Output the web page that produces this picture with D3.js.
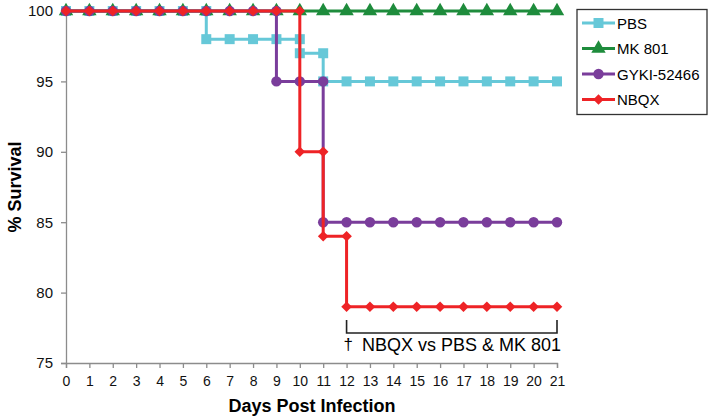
<!DOCTYPE html>
<html>
<head>
<meta charset="utf-8">
<script src="https://cdn.jsdelivr.net/npm/d3@7"></script>
<style>
  body { margin: 0; background: #fff; }
  text { font-family: Arial, "Liberation Sans", sans-serif; }
</style>
</head>
<body>
<div class="chart"></div>
<script>
var width = 714,
    height = 420;

// Data
var days = d3.range(0, 22);
var seriesNames = ["PBS", "MK 801", "GYKI-52466", "NBQX"];
var pbs  = [100,100,100,100,100,100,98,98,98,98,97,95,95,95,95,95,95,95,95,95,95,95];
var mk   = [100,100,100,100,100,100,100,100,100,100,100,100,100,100,100,100,100,100,100,100,100,100];
var gyki = [100,100,100,100,100,100,100,100,100,95,95,85,85,85,85,85,85,85,85,85,85,85];
var nbqx = [100,100,100,100,100,100,100,100,100,100,90,84,79,79,79,79,79,79,79,79,79,79];
var yTicks = [75, 80, 85, 90, 95, 100];
var bracketDays = [12, 21];

var colors = ["#66C8D8", "#1E8C3C", "#7A3D9B", "#EE2326"];
var symbols = [d3.symbolSquare, d3.symbolTriangle, d3.symbolCircle, d3.symbolSquare];
var symSizes = [100, 90, 85, 56];
var symRotate = [0, 0, 0, 45];
var allSeries = [pbs, mk, gyki, nbqx];

var x = d3.scaleLinear().domain([0, 21]).range([66, 557]);
var y = d3.scaleLinear().domain([75, 100]).range([363, 11]);

var svg = d3.select(".chart")
  .append("svg")
    .attr("width", width)
    .attr("height", height);

// Axes
var xAxis = svg.append("g")
  .attr("transform", "translate(0," + y(75) + ")")
  .call(d3.axisBottom(x).tickValues(days).tickSize(5).tickPadding(8).tickFormat(d3.format("d")));
var yAxis = svg.append("g")
  .attr("transform", "translate(" + x(0) + ",0)")
  .call(d3.axisLeft(y).tickValues(yTicks).tickSize(5).tickPadding(8));

[xAxis, yAxis].forEach(function(ax) {
  ax.select(".domain").attr("stroke", "#8c8c8c").attr("stroke-width", 1.3);
  ax.selectAll(".tick line").attr("stroke", "#8c8c8c").attr("stroke-width", 1.3);
  ax.selectAll(".tick text").attr("fill", "#111").style("font-size", "14px")
    .style("font-family", "Arial, 'Liberation Sans', sans-serif");
});
yAxis.selectAll(".tick text").style("font-size", "15px");

// Axis titles
svg.append("text")
  .attr("x", 312).attr("y", 412)
  .attr("text-anchor", "middle")
  .style("font-size", "18px").style("font-weight", "bold")
  .text("Days Post Infection");
svg.append("text")
  .attr("transform", "translate(21,187) rotate(-90)")
  .attr("text-anchor", "middle")
  .style("font-size", "18px").style("font-weight", "bold")
  .text("% Survival");

// Survival curves
var line = d3.line()
  .x(function(d, i) { return x(days[i]); })
  .y(function(d) { return y(d); })
  .curve(d3.curveStepAfter);

allSeries.forEach(function(vals, s) {
  svg.append("path")
    .datum(vals)
    .attr("d", line)
    .attr("fill", "none")
    .attr("stroke", colors[s])
    .attr("stroke-width", 3);

  // markers at each day, plus at the top of each drop
  var pts = [];
  vals.forEach(function(v, i) {
    if (i > 0 && vals[i - 1] !== v) pts.push([days[i], vals[i - 1]]);
    pts.push([days[i], v]);
  });
  svg.append("g").selectAll("path")
    .data(pts)
    .enter()
    .append("path")
    .attr("d", d3.symbol().type(symbols[s]).size(symSizes[s]))
    .attr("transform", function(d) {
      return "translate(" + x(d[0]) + "," + y(d[1]) + ") rotate(" + symRotate[s] + ")";
    })
    .attr("fill", colors[s]);
});

// Significance bracket
var bx0 = x(bracketDays[0]), bx1 = x(bracketDays[1]);
svg.append("path")
  .attr("d", "M" + bx0 + ",320V333H" + bx1 + "V320")
  .attr("fill", "none")
  .attr("stroke", "#222")
  .attr("stroke-width", 1.6);
svg.append("text")
  .attr("x", bx0 - 3).attr("y", 350)
  .style("font-size", "17px")
  .style("font-weight", "300")
  .text("\u2020");
svg.append("text")
  .attr("x", 362).attr("y", 351)
  .style("font-size", "18px")
  .text("NBQX vs PBS & MK 801");

// Legend
var legend = svg.append("g");
legend.append("rect")
  .attr("x", 577).attr("y", 9.5)
  .attr("width", 130).attr("height", 105)
  .attr("fill", "#fff")
  .attr("stroke", "#333")
  .attr("stroke-width", 1.3);

seriesNames.forEach(function(name, s) {
  var ly = 23 + s * 25.5;
  legend.append("line")
    .attr("x1", 582).attr("x2", 615)
    .attr("y1", ly).attr("y2", ly)
    .attr("stroke", colors[s]).attr("stroke-width", 3);
  legend.append("path")
    .attr("d", d3.symbol().type(symbols[s]).size(symSizes[s]))
    .attr("transform", "translate(598.5," + ly + ") rotate(" + symRotate[s] + ")")
    .attr("fill", colors[s]);
  legend.append("text")
    .attr("x", 617).attr("y", ly + 5.5)
    .style("font-size", "15px")
    .text(name);
});
</script>
</body>
</html>
